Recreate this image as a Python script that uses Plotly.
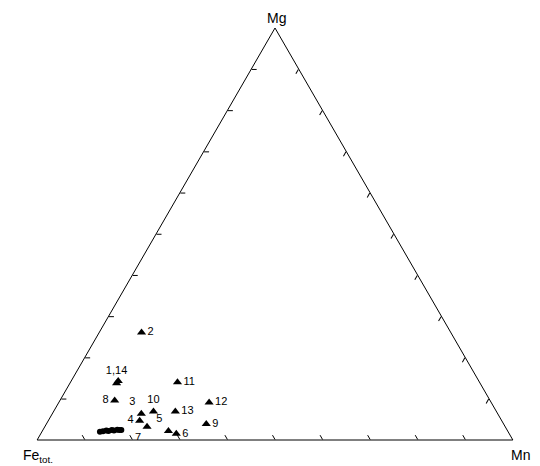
import plotly.graph_objects as go

# ---- data (fractions) ----
samples = ["1", "2", "3", "4", "5", "6", "7", "8", "9", "10", "11", "12", "13", "14"]
tri_labels = ["1,14", "2", "3", "4", "5", "6", "7", "8", "9", "10", "11", "12", "13", ""]
tri_mg = [0.138, 0.261, 0.064, 0.047, 0.022, 0.015, 0.032, 0.096, 0.039, 0.069, 0.140, 0.091, 0.069, 0.143]
tri_mn = [0.098, 0.089, 0.187, 0.192, 0.265, 0.285, 0.215, 0.115, 0.336, 0.210, 0.225, 0.316, 0.256, 0.099]
tri_fe = [round(1 - a - c, 3) for a, c in zip(tri_mg, tri_mn)]

circ_mg = [0.020, 0.021, 0.023, 0.022, 0.024, 0.023, 0.025, 0.024, 0.024]
circ_mn = [0.122, 0.128, 0.134, 0.139, 0.145, 0.150, 0.156, 0.161, 0.165]
circ_fe = [round(1 - a - c, 3) for a, c in zip(circ_mg, circ_mn)]

tick_vals = [0.1, 0.2, 0.3, 0.4, 0.5, 0.6, 0.7, 0.8, 0.9]

# ---- styling ----
label_pos = ["top center", "middle right", "top left", "middle left", "top left",
             "middle right", "bottom left", "middle left", "middle right", "top center",
             "middle right", "middle right", "middle right", "top center"]
FONT = "Liberation Sans, Arial, sans-serif"

OFF = 8  # page body margin
W, H = 540 - OFF, 466 - OFF
L, R, T, B = 29, 27, 20, 26
PW, PH = W - L - R, H - T - B


def px(x):  # screen pixel -> paper x
    return (x - OFF - L) / PW


def py(y):  # screen pixel -> paper y
    return (H - B - (y - OFF)) / PH


fig = go.Figure()
fig.add_trace(go.Scatterternary(
    a=circ_mg, b=circ_fe, c=circ_mn, mode="markers",
    marker=dict(symbol="circle", size=6, color="black"),
    hoverinfo="skip", showlegend=False,
))
fig.add_trace(go.Scatterternary(
    a=tri_mg, b=tri_fe, c=tri_mn, mode="markers+text",
    text=tri_labels, textposition=label_pos,
    textfont=dict(family=FONT, size=11, color="black"),
    marker=dict(symbol="triangle-up", size=8, color="black"),
    customdata=samples, showlegend=False,
))

axis_common = dict(
    title=dict(text=""), showticklabels=False, ticks="inside", ticklen=5,
    tickmode="array", tickvals=tick_vals, tickcolor="black", tickwidth=1,
    showgrid=False, showline=True, linecolor="black", linewidth=1, min=0,
)

fig.update_layout(
    width=W, height=H,
    margin=dict(l=L, r=R, t=T, b=B),
    paper_bgcolor="white",
    font=dict(family=FONT, color="black"),
    ternary=dict(
        sum=1, bgcolor="white",
        domain=dict(x=[0, 1], y=[0, 1]),
        aaxis=axis_common, baxis=axis_common, caxis=axis_common,
    ),
    annotations=[
        dict(text="Mg", x=px(276), y=py(18), xref="paper", yref="paper",
             showarrow=False, font=dict(size=14, family=FONT), xanchor="center", yanchor="middle"),
        dict(text="Fe<sub>tot.</sub>", x=px(38), y=py(456), xref="paper", yref="paper",
             showarrow=False, font=dict(size=14, family=FONT), xanchor="center", yanchor="middle"),
        dict(text="Mn", x=px(520), y=py(455), xref="paper", yref="paper",
             showarrow=False, font=dict(size=14, family=FONT), xanchor="center", yanchor="middle"),
    ],
)

fig.write_html("out.html")
